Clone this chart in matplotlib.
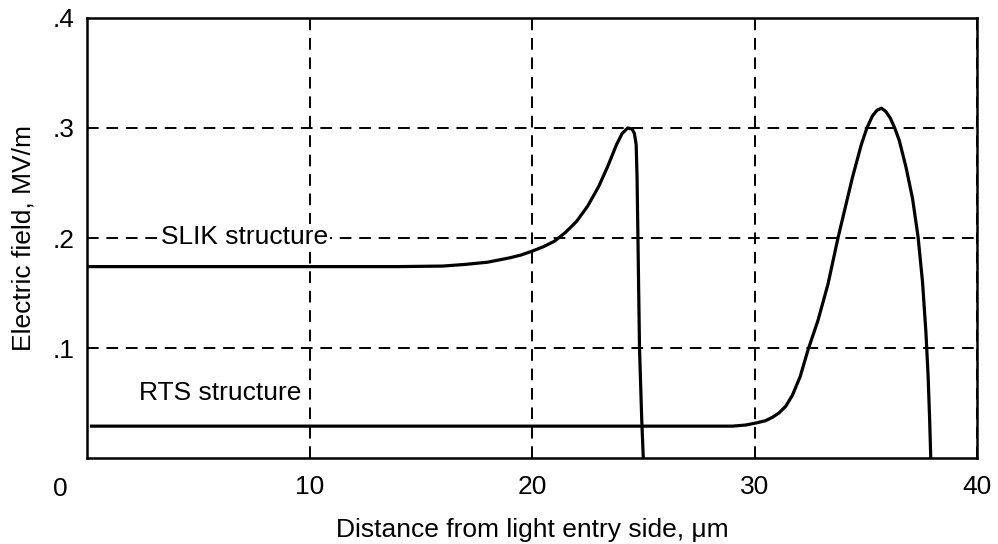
import matplotlib.pyplot as plt

plt.rcParams['font.family'] = ['Liberation Sans', 'DejaVu Sans']

# SLIK structure field profile
slik_x = [0, 14, 16, 17, 18, 19, 19.5, 20, 20.5, 21, 21.5, 22, 22.5, 23,
          23.4, 23.8, 24.05, 24.3, 24.5, 24.6, 24.68, 24.72, 24.76, 24.83,
          24.93, 25.0]
slik_y = [.174, .174, .1745, .176, .178, .182, .1845, .188, .192, .197, .205,
          .215, .229, .247, .265, .285, .295, .300, .299, .295, .285, .255,
          .200, .100, .035, 0]

# RTS structure field profile
rts_x = [0.2, 29.0, 29.6, 30.1, 30.5, 30.8, 31.1, 31.4, 31.7, 32.05, 32.4,
         32.85, 33.3, 33.75, 34.4, 34.8, 35.05, 35.3, 35.5, 35.7, 35.9, 36.1,
         36.3, 36.5, 36.8, 37.1, 37.35, 37.55, 37.7, 37.8, 37.87, 37.92]
rts_y = [.029, .029, .030, .032, .034, .037, .041, .047, .057, .074, .098,
         .125, .158, .200, .255, .285, .300, .311, .316, .318, .315, .309,
         .300, .289, .265, .236, .201, .160, .115, .075, .035, 0]

xticks = [10, 20, 30, 40]
yticks = [.1, .2, .3, .4]
ytick_labels = ['.1', '.2', '.3', '.4']

fig, ax = plt.subplots(figsize=(9.98, 5.44), dpi=100)
fig.subplots_adjust(left=0.0872, right=0.979, top=0.967, bottom=0.158)

ax.plot(slik_x, slik_y, color='black', lw=2.3, solid_joinstyle='round', zorder=3)
ax.plot(rts_x, rts_y, color='black', lw=2.3, solid_joinstyle='round', zorder=3)

ax.set_xlim(0, 40)
ax.set_ylim(0, 0.4)
ax.set_xticks(xticks)
ax.set_yticks(yticks)
ax.set_yticklabels(ytick_labels)
ax.tick_params(axis='x', length=0, labelsize=19, pad=12)
ax.tick_params(axis='y', length=0, labelsize=19, pad=9)
ax.grid(True, color='black', lw=1.4, linestyle=(0, (6, 4)))
for s in ax.spines.values():
    s.set_linewidth(1.8)

# shared origin label
ax.annotate('0', xy=(0, 0), xytext=(-19, -22), textcoords='offset points',
            fontsize=19, ha='center', va='center')

ax.text(7.1, 0.201, 'SLIK structure', fontsize=19, ha='center', va='center',
        bbox=dict(facecolor='white', edgecolor='none', pad=1), zorder=4)
ax.text(6.0, 0.059, 'RTS structure', fontsize=19, ha='center', va='center',
        bbox=dict(facecolor='white', edgecolor='none', pad=1), zorder=4)

ax.set_xlabel('Distance from light entry side, \u03bcm', fontsize=19, labelpad=14)
ax.set_ylabel('Electric field, MV/m', fontsize=19, labelpad=12)

fig.savefig('out.png')
